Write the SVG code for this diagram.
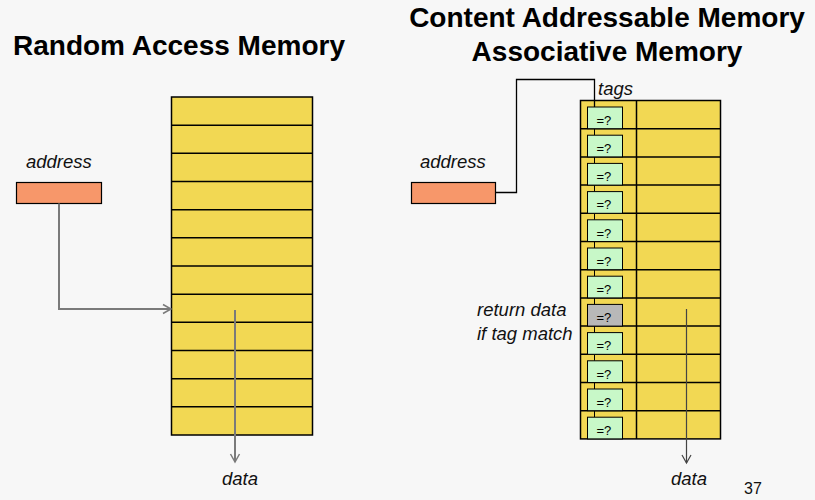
<svg xmlns="http://www.w3.org/2000/svg" width="815" height="500" viewBox="0 0 815 500">
<style>
.title{font-family:"Liberation Sans",Arial,sans-serif;font-weight:bold;font-size:28px;fill:#000}
.lbl{font-family:"Liberation Sans",Arial,sans-serif;font-style:italic;font-size:18.5px;fill:#111}
.tagt{font-family:"Liberation Sans",Arial,sans-serif;font-size:13px;fill:#000}
.mem{fill:#f2d853;stroke:#000;stroke-width:1.5}
.row{stroke:#000;stroke-width:1.5}
.addr{fill:#f7976a;stroke:#000;stroke-width:1.2}
.tag{fill:#c8f8c8;stroke:#000;stroke-width:1}
.hit{fill:#b8b8b8;stroke:#000;stroke-width:1}
.wire{fill:none;stroke:#000;stroke-width:1.3}
.tick{stroke:#000;stroke-width:1}
</style>
<defs>
<marker id="chev" markerWidth="10" markerHeight="10" refX="8" refY="5" orient="auto" markerUnits="userSpaceOnUse">
<polyline points="1,1 8,5 1,9" fill="none" stroke="context-stroke" stroke-width="1.3"/>
</marker>
<marker id="chevG" markerWidth="12" markerHeight="12" refX="9" refY="6" orient="auto" markerUnits="userSpaceOnUse">
<polyline points="1,1.5 9,6 1,10.5" fill="none" stroke="#7a7a7a" stroke-width="1.5"/>
</marker>
<marker id="chevD" markerWidth="12" markerHeight="12" refX="9" refY="6" orient="auto" markerUnits="userSpaceOnUse">
<polyline points="1,1.5 9,6 1,10.5" fill="none" stroke="#444" stroke-width="1.2"/>
</marker>
</defs>
<rect width="815" height="500" fill="#f7f7f7"/>

<g id="title-ram"><text class="title" x="179" y="55" text-anchor="middle">Random Access Memory</text></g>
<g id="title-cam">
<text class="title" x="607" y="27" text-anchor="middle">Content Addressable Memory</text>
<text class="title" x="607" y="61" text-anchor="middle">Associative Memory</text>
</g>

<g id="ram-address">
<text class="lbl" x="26" y="168">address</text>
<rect class="addr" x="16.5" y="182.5" width="85" height="21"/>
</g>

<g id="ram-memory">
<rect class="mem" x="171.5" y="97" width="141" height="338"/>
<g class="row">
<line x1="171.5" y1="125.2" x2="312.5" y2="125.2"/>
<line x1="171.5" y1="153.3" x2="312.5" y2="153.3"/>
<line x1="171.5" y1="181.5" x2="312.5" y2="181.5"/>
<line x1="171.5" y1="209.7" x2="312.5" y2="209.7"/>
<line x1="171.5" y1="237.8" x2="312.5" y2="237.8"/>
<line x1="171.5" y1="266" x2="312.5" y2="266"/>
<line x1="171.5" y1="294.2" x2="312.5" y2="294.2"/>
<line x1="171.5" y1="322.3" x2="312.5" y2="322.3"/>
<line x1="171.5" y1="350.5" x2="312.5" y2="350.5"/>
<line x1="171.5" y1="378.7" x2="312.5" y2="378.7"/>
<line x1="171.5" y1="406.8" x2="312.5" y2="406.8"/>
</g>
</g>

<g id="ram-data"><text class="lbl" x="240" y="485" text-anchor="middle">data</text></g>

<g id="cam-address">
<text class="lbl" x="420" y="168">address</text>
<rect class="addr" x="411.5" y="182.5" width="84" height="21"/>
</g>

<g id="cam-memory">
<rect class="mem" x="580.5" y="100.5" width="140" height="338.4"/>
<line class="row" x1="636.5" y1="100.5" x2="636.5" y2="438.9"/>
<g class="row">
<line x1="580.5" y1="128.7" x2="720.5" y2="128.7"/>
<line x1="580.5" y1="156.9" x2="720.5" y2="156.9"/>
<line x1="580.5" y1="185.1" x2="720.5" y2="185.1"/>
<line x1="580.5" y1="213.3" x2="720.5" y2="213.3"/>
<line x1="580.5" y1="241.5" x2="720.5" y2="241.5"/>
<line x1="580.5" y1="269.7" x2="720.5" y2="269.7"/>
<line x1="580.5" y1="297.9" x2="720.5" y2="297.9"/>
<line x1="580.5" y1="326.1" x2="720.5" y2="326.1"/>
<line x1="580.5" y1="354.3" x2="720.5" y2="354.3"/>
<line x1="580.5" y1="382.5" x2="720.5" y2="382.5"/>
<line x1="580.5" y1="410.7" x2="720.5" y2="410.7"/>
</g>
<g class="tick">
<line x1="594.5" y1="128.7" x2="594.5" y2="135.2"/>
<line x1="594.5" y1="156.9" x2="594.5" y2="163.4"/>
<line x1="594.5" y1="185.1" x2="594.5" y2="191.6"/>
<line x1="594.5" y1="213.3" x2="594.5" y2="219.8"/>
<line x1="594.5" y1="241.5" x2="594.5" y2="248"/>
<line x1="594.5" y1="269.7" x2="594.5" y2="276.2"/>
<line x1="594.5" y1="297.9" x2="594.5" y2="304.4"/>
<line x1="594.5" y1="326.1" x2="594.5" y2="332.6"/>
<line x1="594.5" y1="354.3" x2="594.5" y2="360.8"/>
<line x1="594.5" y1="382.5" x2="594.5" y2="389"/>
<line x1="594.5" y1="410.7" x2="594.5" y2="417.2"/>
</g>
<g id="tags">
<rect class="tag" x="587.5" y="107" width="35" height="21.7"/>
<rect class="tag" x="587.5" y="135.2" width="35" height="21.7"/>
<rect class="tag" x="587.5" y="163.4" width="35" height="21.7"/>
<rect class="tag" x="587.5" y="191.6" width="35" height="21.7"/>
<rect class="tag" x="587.5" y="219.8" width="35" height="21.7"/>
<rect class="tag" x="587.5" y="248" width="35" height="21.7"/>
<rect class="tag" x="587.5" y="276.2" width="35" height="21.7"/>
<rect class="hit" x="587.5" y="304.4" width="35" height="21.7"/>
<rect class="tag" x="587.5" y="332.6" width="35" height="21.7"/>
<rect class="tag" x="587.5" y="360.8" width="35" height="21.7"/>
<rect class="tag" x="587.5" y="389" width="35" height="21.7"/>
<rect class="tag" x="587.5" y="417.2" width="35" height="21.7"/>
<text class="tagt" x="596.5" y="124.8">=?</text>
<text class="tagt" x="596.5" y="153">=?</text>
<text class="tagt" x="596.5" y="181.2">=?</text>
<text class="tagt" x="596.5" y="209.4">=?</text>
<text class="tagt" x="596.5" y="237.6">=?</text>
<text class="tagt" x="596.5" y="265.8">=?</text>
<text class="tagt" x="596.5" y="294">=?</text>
<text class="tagt" x="596.5" y="322.2">=?</text>
<text class="tagt" x="596.5" y="350.4">=?</text>
<text class="tagt" x="596.5" y="378.6">=?</text>
<text class="tagt" x="596.5" y="406.8">=?</text>
<text class="tagt" x="596.5" y="435">=?</text>
</g>
</g>

<g id="cam-labels">
<text class="lbl" x="598" y="94.5">tags</text>
<text class="lbl" x="477" y="316">return data</text>
<text class="lbl" x="477" y="340">if tag match</text>
<text class="lbl" x="689" y="485" text-anchor="middle">data</text>
</g>

<g id="page-number"><text x="753" y="494" text-anchor="middle" font-family="'Liberation Sans',Arial,sans-serif" font-size="16" fill="#111">37</text></g>

<g id="connectors">
<polyline points="59,203.5 59,309 171,309" fill="none" stroke="#7a7a7a" stroke-width="2" marker-end="url(#chevG)"/>
<line x1="235" y1="310" x2="235" y2="462" stroke="#7a7a7a" stroke-width="2" marker-end="url(#chevG)"/>
<polyline class="wire" points="495.5,192.5 516.5,192.5 516.5,79.5 594.5,79.5 594.5,107"/>
<line x1="686.5" y1="309" x2="686.5" y2="463" stroke="#444" stroke-width="1.2" marker-end="url(#chevD)"/>
</g>
</svg>
